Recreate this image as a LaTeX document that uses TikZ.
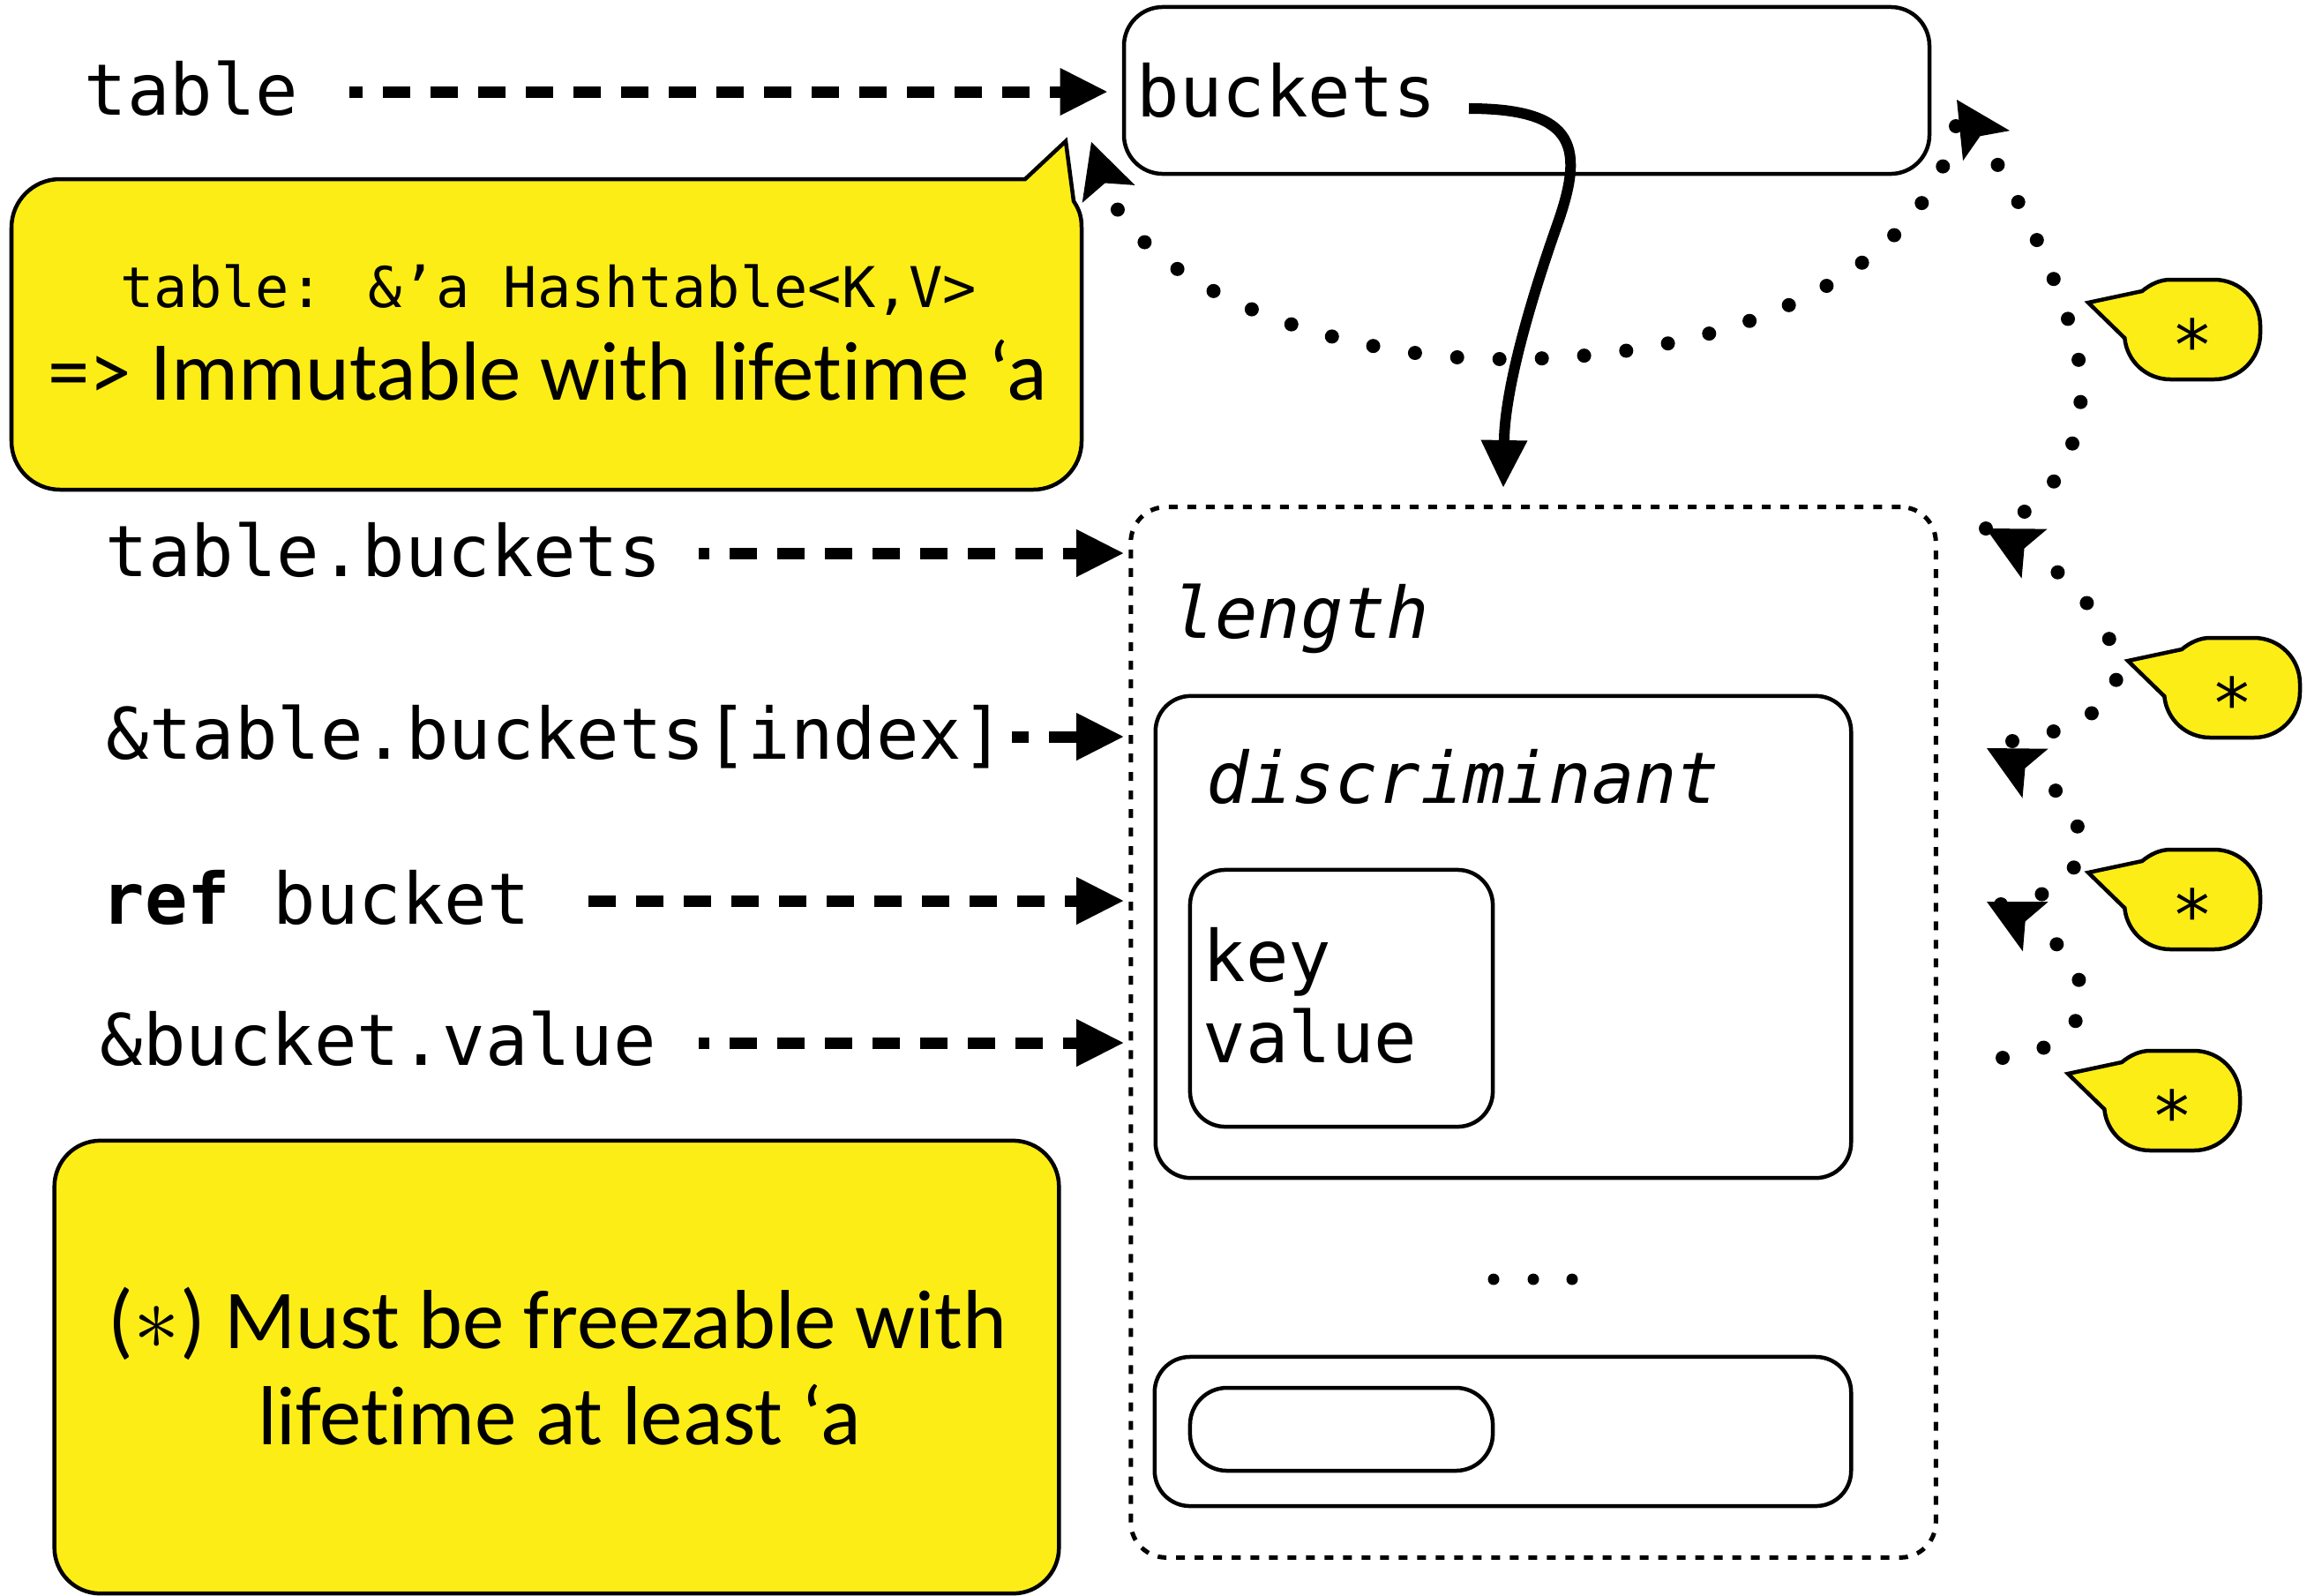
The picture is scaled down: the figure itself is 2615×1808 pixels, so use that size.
\documentclass[tikz,border=0pt]{standalone}
\usepackage{fontspec}
\usepackage{graphicx}
\usetikzlibrary{arrows.meta}
\newfontfamily\codefont{DejaVu Sans Mono}
\newfontfamily\notefont[Ligatures=NoCommon]{Carlito}
\definecolor{noteyellow}{RGB}{253,237,23}
\newcommand\codesize{\fontsize{22.9}{27}\selectfont}
\newcommand\notesize{\fontsize{27}{32}\selectfont}

\begin{document}
\begin{tikzpicture}[x=0.01cm, y=-0.01cm,
  code/.style={font=\codefont\codesize, inner sep=0pt, anchor=base west},
  box/.style={draw, line width=0.045cm, rounded corners=0.40cm, inner sep=0pt},
  ptr/.style={line width=0.13cm, dash pattern=on 0.31cm off 0.23cm,
    -{Triangle[length=0.53cm, width=0.54cm, line width=0pt]}},
  chain/.style={line width=0.16cm, line cap=round, dash pattern=on 0cm off 0.48cm,
    -{Stealth[length=0.62cm, width=0.63cm, inset=0.13cm, line width=0pt]}},
  note/.style={draw, fill=noteyellow, line width=0.045cm, line join=miter},
  notetext/.style={font=\notefont\notesize, inner sep=0pt, anchor=base},
  starnote/.pic={
    \draw[note] (-41,26) -- (20,13) .. controls (29.3,5.4) and (40,0) .. (52,0) -- (102,0)
      .. controls (130.7,0) and (154,23.3) .. (154,52) -- (154,61)
      .. controls (154,89.7) and (130.7,113) .. (102,113) -- (52,113)
      .. controls (25.3,113) and (2.9,92.8) .. (0.3,66.2) -- cycle;
    \node[font=\codefont\fontsize{22.5}{27}\selectfont, inner sep=0pt, anchor=base] (-t) at (77,102) {*};
  }
]
% canvas
\fill[white] (0,0) rectangle (2615,1808);
\useasboundingbox (0,0) rectangle (2615,1808);

% the hashtable struct and its bucket array
\node[box, minimum width=9.125cm, minimum height=1.89cm, rounded corners=0.44cm] (tbl) at (1730.5,102.5) {};
\node[code] (fbuckets) at (1288,132) {buckets};

\node[box, dash pattern=on 0.10cm off 0.11cm, line width=0.05cm,
      minimum width=9.12cm, minimum height=11.9cm] (arr) at (1738,1170) {};
\node[code] (flen) at (1328,723) {\itshape length};

\node[box, minimum width=7.88cm, minimum height=5.46cm] (b0) at (1704,1062) {};
\node[code] (fdisc) at (1367,910) {\itshape discriminant};
\node[box, minimum width=3.43cm, minimum height=2.91cm] (kv0) at (1520.5,1131.5) {};
\node[code] (fkey) at (1363,1112) {key};
\node[code] (fval) at (1363,1204) {value};

\fill (1693,1450) circle[radius=0.065cm] (1738,1450) circle[radius=0.065cm] (1782,1450) circle[radius=0.065cm];

\node[box, minimum width=7.89cm, minimum height=1.69cm] (bn) at (1703.5,1622.5) {};
\node[box, minimum width=3.43cm, minimum height=0.94cm, rounded corners=0.42cm] (kvn) at (1520.5,1620) {};

% expressions on the left
\node[code] (ltable) at (95,130) {table};
\node[code] (ltb) at (119,653) {table.buckets};
\node[code] (lidx) at (120,860) {\&table.buckets[index]};
\node[code] (lref) at (115,1047) {\textbf{ref} bucket};
\node[code] (lval) at (113,1207) {\&bucket.value};

\coordinate (a0) at (396,104);
\coordinate (a1) at (792,627);
\coordinate (a2) at (1147,835);
\coordinate (a3) at (667,1021);
\coordinate (a4) at (792,1182);
\draw[ptr, dash phase=0.16cm, shorten >=0.17cm] (a0) -- (a0 -| tbl.west);
\draw[ptr, dash phase=0.19cm, shorten >=0.06cm] (a1) -- (a1 -| arr.west);
\draw[ptr, dash phase=0.12cm, shorten >=0.06cm] (a2) -- (a2 -| arr.west);
\draw[ptr, shorten >=0.06cm] (a3) -- (a3 -| arr.west);
\draw[ptr, dash phase=0.19cm, shorten >=0.06cm] (a4) -- (a4 -| arr.west);

% buckets field points at the array
\coordinate (hs) at (1665,123);
\coordinate (he) at (1704,552);
\draw[line width=0.12cm, -{Triangle[length=0.53cm, width=0.53cm, line width=0pt]}]
  (hs) .. controls (1790,123) and (1795,170) .. (1765,255)
       .. controls (1735,340) and (1706,440) .. (he);

% first note with its pointer
\draw[note] (1208,160) -- (1217,228) .. controls (1223.6,238) and (1226,246) .. (1226,258)
  -- (1226,500) .. controls (1226,530.4) and (1201.4,555) .. (1171,555)
  -- (68,555) .. controls (37.6,555) and (13,530.4) .. (13,500)
  -- (13,258) .. controls (13,227.6) and (37.6,203) .. (68,203)
  -- (1162,203) -- cycle;
\node[font=\codefont\fontsize{18.1}{22}\selectfont, inner sep=0pt, anchor=base] (n1a) at (622,348) {table: \&’a Hashtable<K,V>};
\node[notetext] (n1b) at (621,453) {=> Immutable with lifetime ‘a};

% second note
\node[note, rounded corners=0.52cm, minimum width=11.38cm, minimum height=5.13cm] (note2) at (631,1549.5) {};
\node[notetext] (n2a) at (632,1528) {(\raisebox{-0.02em}{\scalebox{1.2}{$\ast$}}) Must be freezable with};
\node[notetext] (n2b) at (634,1637) {lifetime at least ‘a};

% star notes
\pic (s1) at (2408,317) {starnote};
\pic (s2) at (2453,723) {starnote};
\pic (s3) at (2408,963) {starnote};
\pic (s4) at (2385,1191) {starnote};

% chain of borrows
\coordinate (c0) at (2270,1199);
\coordinate (c1) at (2252,1022);
\coordinate (c1s) at (2268,1025);
\coordinate (c2) at (2252,848);
\coordinate (c2s) at (2281,840);
\coordinate (c3) at (2251,599);
\coordinate (c4) at (2218,113);
\coordinate (c4s) at (2217,143);
\coordinate (c5) at (1237,161);
\draw[chain] (c0) .. controls (2395,1185) and (2375,1085) .. (c1);
\draw[chain] (c1s) .. controls (2393,1011) and (2373,911) .. (c2);
\draw[chain] (c2s) .. controls (2345,830) and (2420,800) .. (2395,735)
  .. controls (2380,690) and (2330,640) .. (c3);
\draw[chain] (c3) .. controls (2340,580) and (2375,470) .. (2352,390)
  .. controls (2335,320) and (2290,225) .. (c4);
\draw[chain] (c4s) .. controls (2185,300) and (1980,407) .. (1707,407)
  .. controls (1500,407) and (1290,320) .. (c5);
\end{tikzpicture}
\end{document}
